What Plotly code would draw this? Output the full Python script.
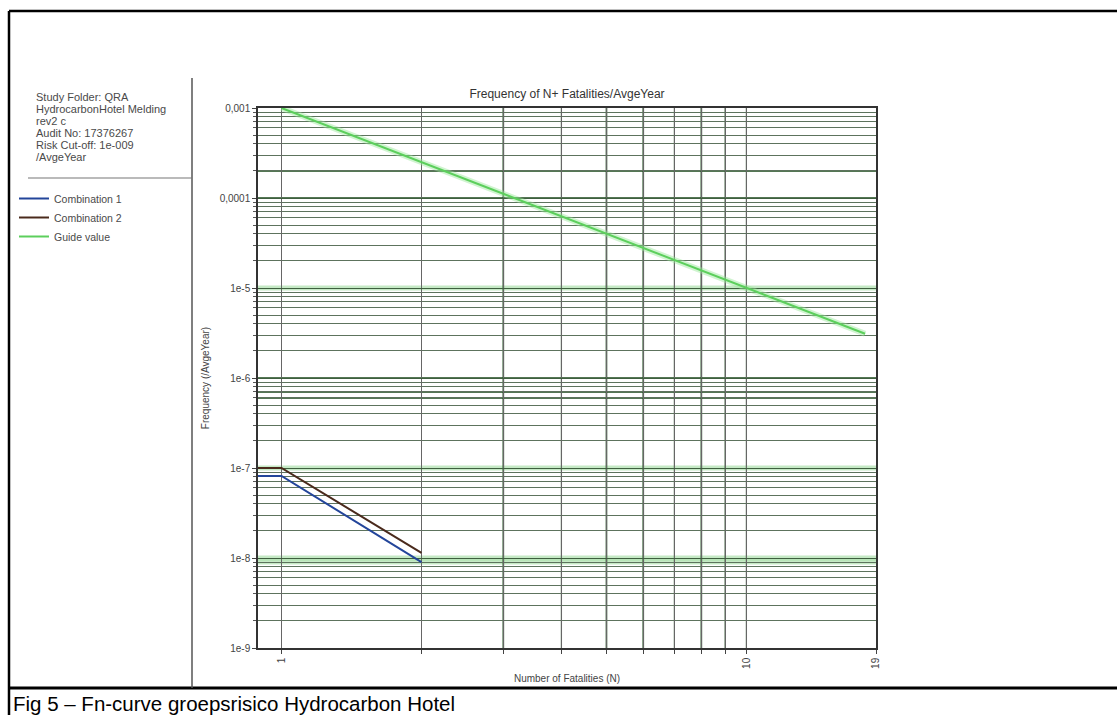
import plotly.graph_objects as go
import math

# ---------------- data ----------------
comb1_N = [0.89, 1, 2]
comb1_F = [8.15e-8, 8.15e-8, 9.0e-9]

comb2_N = [0.89, 1, 2]
comb2_F = [1.0e-7, 1.0e-7, 1.14e-8]

guide_N = [1, 2, 3, 5, 10, 18]
guide_F = [1e-3, 2.5e-4, 1.1e-4, 4.0e-5, 1.0e-5, 3.1e-6]

x_tick_vals = [1, 2, 3, 4, 5, 6, 7, 8, 9, 10, 19]
x_tick_text = ["1", "", "", "", "", "", "", "", "", "10", "19"]
y_tick_vals = [1e-9, 1e-8, 1e-7, 1e-6, 1e-5, 1e-4, 1e-3]
y_tick_text = ["1e-9", "1e-8", "1e-7", "1e-6", "1e-5", "0,0001", "0,001"]

info_lines = ["Study Folder: QRA", "HydrocarbonHotel Melding", "rev2 c",
              "Audit No: 17376267", "Risk Cut-off: 1e-009", "/AvgeYear"]

x_dark_grid = [3, 5, 6, 8]
x_mid_grid = [4, 7, 9, 10]
y_dark_grid = [2e-4, 1e-4, 1e-6, 7e-7, 6e-7]
y_green_band = [1e-7, 1e-8, 9e-9, 1e-5]

# ---------------- figure ----------------
W, H = 1117, 715
L, R, T, B = 258, 241, 108, 67
pw, ph = W - L - R, H - T - B

def px(x):
    return (x - L) / pw

def py(y):
    return (H - B - y) / ph

y_minor = [k * 10.0 ** e for e in range(-9, -3) for k in range(2, 10)]

fig = go.Figure()

# light glow behind guide line
fig.add_trace(go.Scatter(x=guide_N, y=guide_F, mode="lines",
                         line=dict(color="rgba(150,230,150,0.45)", width=6),
                         showlegend=False, hoverinfo="skip"))
fig.add_trace(go.Scatter(x=comb1_N, y=comb1_F, mode="lines", name="Combination 1",
                         line=dict(color="#23459a", width=2)))
fig.add_trace(go.Scatter(x=comb2_N, y=comb2_F, mode="lines", name="Combination 2",
                         line=dict(color="#4a2a1c", width=2)))
fig.add_trace(go.Scatter(x=guide_N, y=guide_F, mode="lines", name="Guide value",
                         line=dict(color="#5ccf5c", width=2)))

grid_col = "#5d735d"
shapes = []
for v in y_green_band:
    shapes.append(dict(type="line", xref="paper", yref="y", x0=0, x1=1, y0=v, y1=v,
                       line=dict(color="rgba(150,215,150,0.55)", width=5), layer="below"))
for v in y_dark_grid:
    shapes.append(dict(type="line", xref="paper", yref="y", x0=0, x1=1, y0=v, y1=v,
                       line=dict(color="#1d4a1d", width=1.6), layer="below"))
for v in x_dark_grid:
    shapes.append(dict(type="line", xref="x", yref="paper", x0=v, x1=v, y0=0, y1=1,
                       line=dict(color="#1f501f", width=1.6), layer="below"))
for v in x_mid_grid:
    shapes.append(dict(type="line", xref="x", yref="paper", x0=v, x1=v, y0=0, y1=1,
                       line=dict(color="#3d603d", width=1.2), layer="below"))

# page frame
shapes += [
    dict(type="line", xref="paper", yref="paper", x0=px(9), x1=px(W + 5), y0=py(11), y1=py(11),
         line=dict(color="black", width=2.5)),
    dict(type="line", xref="paper", yref="paper", x0=px(9), x1=px(9), y0=py(11), y1=py(H + 5),
         line=dict(color="black", width=2.5)),
    dict(type="line", xref="paper", yref="paper", x0=px(9), x1=px(W + 5), y0=py(688), y1=py(688),
         line=dict(color="black", width=3)),
    # left info panel separators
    dict(type="line", xref="paper", yref="paper", x0=px(192), x1=px(192), y0=py(78), y1=py(688),
         line=dict(color="#555555", width=1.5)),
    dict(type="line", xref="paper", yref="paper", x0=px(28), x1=px(192), y0=py(178), y1=py(178),
         line=dict(color="#777777", width=1.2)),
]

annotations = []
for i, t in enumerate(info_lines):
    annotations.append(dict(text=t, xref="paper", yref="paper", x=px(34), y=py(97 + 12 * i),
                            xanchor="left", yanchor="middle", showarrow=False,
                            font=dict(family="Liberation Sans, Arial", size=11, color="#4a4a4a")))
annotations.append(dict(text="Fig 5 \u2013 Fn-curve groepsrisico Hydrocarbon Hotel",
                        xref="paper", yref="paper", x=px(11), y=py(690),
                        xanchor="left", yanchor="top", showarrow=False,
                        font=dict(family="Liberation Sans, Arial", size=20.5, color="black")))

fig.update_layout(
    width=W, height=H,
    margin=dict(l=L, r=R, t=T, b=B, pad=0),
    paper_bgcolor="white", plot_bgcolor="white",
    font=dict(family="Liberation Sans, Arial", color="#444444"),
    title=dict(text="Frequency of N+ Fatalities/AvgeYear", x=567 / W,
               xanchor="center", y=1 - 94 / H, yanchor="middle",
               font=dict(size=12, color="#333333")),
    showlegend=True,
    legend=dict(x=px(14), y=py(184), xanchor="left", yanchor="top",
                bgcolor="rgba(0,0,0,0)", font=dict(size=10.5, color="#4a4a4a"),
                tracegroupgap=0, itemwidth=30),
    shapes=shapes,
    annotations=annotations,
)

fig.update_xaxes(
    type="log", range=[math.log10(0.89), math.log10(19)],
    tickmode="array", tickvals=x_tick_vals, ticktext=x_tick_text,
    tickangle=-90, ticks="outside", ticklen=4, tickcolor="#444",
    tickfont=dict(size=10, color="#444444"),
    showgrid=True, gridcolor="#666666", gridwidth=1,
    showline=True, linecolor="#333333", linewidth=1.5, mirror=True,
    zeroline=False,
    title=dict(text="Number of Fatalities (N)", font=dict(size=10, color="#444444"), standoff=7),
)
fig.update_yaxes(
    type="log", range=[-9, -3],
    tickmode="array", tickvals=y_tick_vals, ticktext=y_tick_text,
    ticks="outside", ticklen=4, tickcolor="#444",
    tickfont=dict(size=10, color="#444444"),
    showgrid=True, gridcolor="#3f5f3f", gridwidth=1,
    minor=dict(tickmode="array", tickvals=y_minor, showgrid=True, gridcolor=grid_col,
               gridwidth=1, ticks="outside", ticklen=3, tickcolor="#555"),
    showline=True, linecolor="#333333", linewidth=1.5, mirror=True,
    zeroline=False,
    title=dict(text="Frequency (/AvgeYear)", font=dict(size=10, color="#444444"), standoff=8),
)

fig.write_html("out.html")
